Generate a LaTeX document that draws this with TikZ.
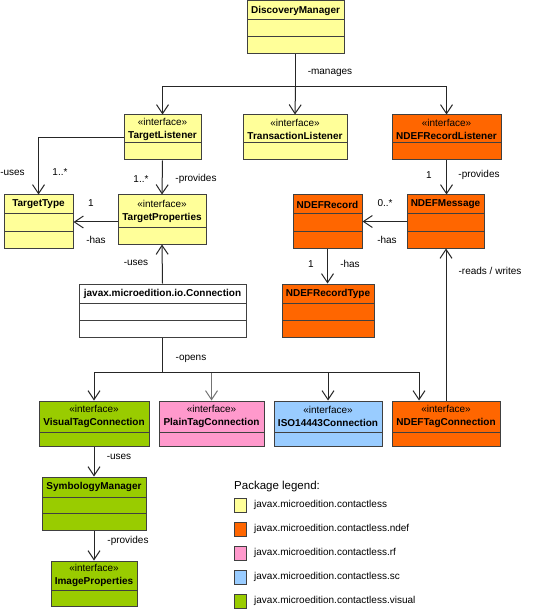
\documentclass[tikz,border=0pt]{standalone}
\usepackage{fontspec}
\setmainfont{Liberation Sans}
\usetikzlibrary{arrows.meta,fit,calc}
\definecolor{cyel}{HTML}{FFFF99}
\definecolor{corg}{HTML}{FF6600}
\definecolor{cpnk}{HTML}{FF99CC}
\definecolor{cblu}{HTML}{99CCFF}
\definecolor{cgrn}{HTML}{99CC00}
\definecolor{cbrd}{HTML}{404040}
\tikzset{
  umlbox/.style={draw=cbrd, line width=1pt, inner sep=0pt},
  hdr/.style={align=center, inner sep=0pt, font=\fontsize{10}{13}\selectfont},
  lbl/.style={inner sep=0pt, font=\fontsize{10}{12}\selectfont},
  conn/.style={draw=black!85, line width=1pt},
  arr/.style={conn, -{Straight Barb[length=9pt,width=12pt,line width=1pt]}},
  legsq/.style={draw=cbrd, line width=1pt, minimum width=12pt, minimum height=14pt, inner sep=0pt},
  legtx/.style={anchor=west, inner sep=0pt, font=\fontsize{10}{12}\selectfont}
}
% #1 name, #2 fill, #3 x1, #4 y1, #5 x2, #6 y2, #7 compartment lines, #8 header bottom, #9 header text
\newcommand\umlclass[9]{%
  \node[umlbox, fill=#2, fit={(#3,#4) (#5,#6)}] (#1) {};
  \foreach \yy in {#7} {\draw[draw=cbrd, line width=1pt] (#3,\yy) -- (#5,\yy);}
  \node[hdr] (#1-t) at ({(#3+#5)/2},{(#4+#8)/2}) {#9};
}
\newcommand\iface[1]{«interface»\\\textbf{#1}}
\begin{document}
\begin{tikzpicture}[x=1pt,y=-1pt]
\useasboundingbox[fill=white] (0,0) rectangle (546,609);

\umlclass{dm}{cyel}{247}{1}{344}{54}{20,37}{20}{\textbf{DiscoveryManager}}
\umlclass{tl}{cyel}{124}{115}{201}{160}{143}{143}{\iface{TargetListener}}
\umlclass{trl}{cyel}{243}{115}{347}{160}{143}{143}{\iface{TransactionListener}}
\umlclass{nrl}{corg}{392}{115}{501}{160}{143}{143}{\iface{NDEFRecordListener}}
\umlclass{tt}{cyel}{4}{195}{73}{248}{214,232}{214}{\textbf{TargetType}}
\umlclass{tp}{cyel}{118}{195}{206}{244}{228}{228}{\iface{TargetProperties}}
\umlclass{nr}{corg}{293}{195}{362}{248}{214,232}{214}{\textbf{NDEFRecord}}
\umlclass{nm}{corg}{407}{195}{484}{248}{214,232}{214}{\textbf{NDEFMessage}}
\umlclass{nrt}{corg}{282}{284}{374}{337}{303,320}{303}{\textbf{NDEFRecordType}}
\umlclass{cn}{white}{79}{284}{246}{337}{303,320}{303}{\textbf{javax.microedition.io.Connection}}
\umlclass{vtc}{cgrn}{39}{401}{149}{446}{432}{432}{\iface{VisualTagConnection}}
\umlclass{ptc}{cpnk}{159}{401}{264}{446}{432}{432}{\iface{PlainTagConnection}}
\umlclass{iso}{cblu}{274}{401}{382}{446}{432}{432}{\iface{ISO14443Connection}}
\umlclass{ntc}{corg}{392}{401}{500}{446}{432}{432}{\iface{NDEFTagConnection}}
\umlclass{sm}{cgrn}{42}{477}{146}{530}{497,513}{497}{\textbf{SymbologyManager}}
\umlclass{ip}{cgrn}{51}{561}{137}{606}{590}{590}{\iface{ImageProperties}}

% manages
\coordinate (mj) at (295.5,87);
\draw[conn] (dm.south) -- (mj);
\draw[arr] (mj) -| (tl.north);
\draw[arr] (mj) -- (trl.north);
\draw[arr] (mj) -| (nrl.north);
\node[lbl] (l1) at (330,73) {-manages};

% TargetListener uses TargetType
\draw[arr] (tl.west) -| (tt.north);
\node[lbl] (l2) at (12.5,173) {-uses};
\node[lbl] (l3) at (60,172) {1..*};

% TargetListener provides TargetProperties
\draw[arr] (tl.south) -- (tp.north);
\node[lbl] (l4) at (141,179) {1..*};
\node[lbl] (l5) at (196,179) {-provides};

% TargetProperties has TargetType
\draw[arr] ([yshift=-2.5pt]tp.west) -- ([yshift=-2.5pt]tp.west -| tt.east);
\node[lbl] (l6) at (91,203) {1};
\node[lbl] (l7) at (96,240) {-has};

% NDEFRecordListener provides NDEFMessage
\draw[arr] (nrl.south) -- (nrl.south |- nm.north);
\node[lbl] (l8) at (429,175) {1};
\node[lbl] (l9) at (479,175) {-provides};

% NDEFMessage has NDEFRecord
\draw[arr] (nm.west) -- (nm.west -| nr.east);
\node[lbl] (l10) at (385,203) {0..*};
\node[lbl] (l11) at (387,240) {-has};

% NDEFRecord has NDEFRecordType
\draw[arr] (nr.south) -- (nr.south |- nrt.north);
\node[lbl] (l12) at (311,264) {1};
\node[lbl] (l13) at (350,264) {-has};

% Connection uses TargetProperties
\draw[arr] (cn.north) -- (tp.south);
\node[lbl] (l14) at (136,263) {-uses};

% Connection opens
\coordinate (oj) at (162.5,372);
\draw[conn, line width=1.6pt] (cn.south) -- (oj);
\draw[arr] (oj) -| (vtc.north);
\draw[arr, draw=black!55] (oj) -| (ptc.north);
\draw[arr] (oj) -| (iso.north);
\draw[arr] (oj) -| ([xshift=-27pt]ntc.north);
\node[lbl] (l15) at (191,359) {-opens};

% NDEFTagConnection reads/writes NDEFMessage
\draw[arr] (ntc.north) -- (ntc.north |- nm.south);
\node[lbl] (l16) at (490,271) {-reads / writes};

% VisualTagConnection uses SymbologyManager
\draw[arr] (vtc.south) -- (sm.north);
\node[lbl] (l17) at (119,457) {-uses};
\draw[arr] (sm.south) -- (ip.north);
\node[lbl] (l18) at (128,541) {-provides};

% legend
\node[anchor=west, inner sep=0pt, font=\fontsize{11.5}{13}\selectfont] (lgt) at (234,487) {Package legend:};
\node[legsq, fill=cyel] (q1) at (240,505) {};
\node[legsq, fill=corg] (q2) at (240,529) {};
\node[legsq, fill=cpnk] (q3) at (240,553) {};
\node[legsq, fill=cblu] (q4) at (240,577) {};
\node[legsq, fill=cgrn] (q5) at (240,601) {};
\node[legtx] (t1) at (254,505) {javax.microedition.contactless};
\node[legtx] (t2) at (254,529) {javax.microedition.contactless.ndef};
\node[legtx] (t3) at (254,553) {javax.microedition.contactless.rf};
\node[legtx] (t4) at (254,577) {javax.microedition.contactless.sc};
\node[legtx] (t5) at (254,601) {javax.microedition.contactless.visual};
\end{tikzpicture}
\end{document}
